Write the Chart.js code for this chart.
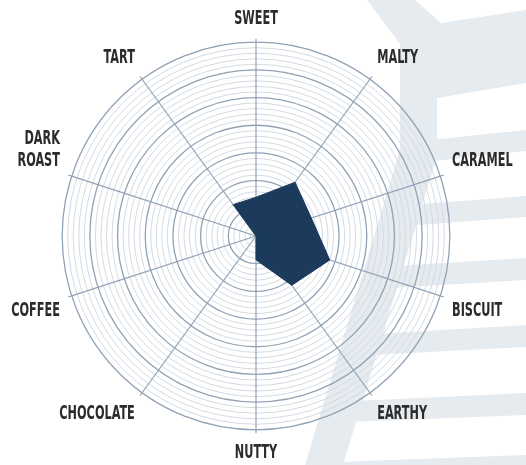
<!DOCTYPE html>
<html>
<head>
<meta charset="utf-8">
<script src="https://cdn.jsdelivr.net/npm/chart.js@4.4.9/dist/chart.umd.min.js"></script>
<style>
  html, body { margin: 0; padding: 0; background: #fff; }
  #wrap { width: 526px; height: 465px; }
</style>
</head>
<body>
<div id="wrap"><canvas id="flavor-chart"></canvas></div>
<script>
const flavors = ['SWEET', 'MALTY', 'CARAMEL', 'BISCUIT', 'EARTHY', 'NUTTY', 'CHOCOLATE', 'COFFEE', ['DARK', 'ROAST'], 'TART'];
const profile = [7, 12, 10.5, 14, 11, 4.3, 0, 0, 0, 7];
const ringValues = Array.from({ length: 36 }, (_, i) => i); // 0..35, every 5th is a major ring

const majorColor = '#8fa2b6';
const minorColor = '#d3dae2';
const squeeze = 0.66; // no condensed font installed, so labels are narrowed by hand

// faint logo drawn behind the grid
const watermark = {
    id: 'watermark',
    beforeDraw(chart) {
        const ctx = chart.ctx;
        const shapes = [
            [[367, 0], [415, 0], [441, 23], [526, 10], [526, 83], [437, 98], [437, 150], [400, 150], [400, 44]],
            [[400, 150], [439, 150], [343, 465], [305, 465]],
            [[430, 140], [526, 130], [526, 151], [425, 162]],
            [[410, 205], [526, 196], [526, 217], [405, 226]],
            [[395, 266], [526, 258], [526, 280], [390, 288]],
            [[375, 334], [526, 325], [526, 347], [370, 355]],
            [[355, 401], [526, 393], [526, 415], [350, 422]],
            [[338, 462], [526, 455], [526, 465], [336, 470]]
        ];
        ctx.save();
        ctx.fillStyle = '#e6ebf0';
        shapes.forEach(pts => {
            ctx.beginPath();
            pts.forEach(([x, y], i) => i ? ctx.lineTo(x, y) : ctx.moveTo(x, y));
            ctx.closePath();
            ctx.fill();
        });
        ctx.restore();
    }
};

const ctx = document.getElementById('flavor-chart').getContext('2d');

// only the point labels are text here, so squeeze all text drawn on this canvas
const fillText = ctx.fillText.bind(ctx);
const measureText = ctx.measureText.bind(ctx);
ctx.fillText = (text, x, y) => {
    ctx.save();
    ctx.translate(x, y);
    ctx.scale(squeeze, 1);
    fillText(text, 0, 0);
    ctx.restore();
};
ctx.measureText = text => {
    const m = measureText(text);
    return { width: m.width * squeeze, actualBoundingBoxAscent: m.actualBoundingBoxAscent, actualBoundingBoxDescent: m.actualBoundingBoxDescent };
};

new Chart(ctx, {
    type: 'radar',
    data: {
        labels: flavors,
        datasets: [{
            data: profile,
            backgroundColor: '#1b3a5c',
            borderColor: '#1b3a5c',
            borderWidth: 1,
            pointRadius: 0,
            pointHoverRadius: 0,
            fill: true
        }]
    },
    options: {
        responsive: true,
        maintainAspectRatio: false,
        animation: false,
        layout: { padding: { top: 8, bottom: -8, left: 0, right: -6 } },
        plugins: {
            legend: { display: false },
            tooltip: { enabled: false }
        },
        scales: {
            r: {
                min: 0,
                max: 35.6,
                afterBuildTicks: scale => {
                    scale.ticks = ringValues.map(v => ({ value: v }));
                },
                ticks: { display: false },
                grid: {
                    circular: true,
                    color: c => (c.tick && c.tick.value % 5 === 0) ? majorColor : minorColor,
                    lineWidth: c => (c.tick && c.tick.value % 5 === 0) ? 1.3 : 1
                },
                angleLines: {
                    color: majorColor,
                    lineWidth: 1.2
                },
                pointLabels: {
                    color: '#2b2b2b',
                    padding: 9,
                    font: {
                        family: '"DejaVu Sans Condensed", "DejaVu Sans", sans-serif',
                        size: 19,
                        weight: 'bold',
                        lineHeight: 1.15
                    }
                }
            }
        }
    },
    plugins: [watermark]
});
</script>
</body>
</html>
